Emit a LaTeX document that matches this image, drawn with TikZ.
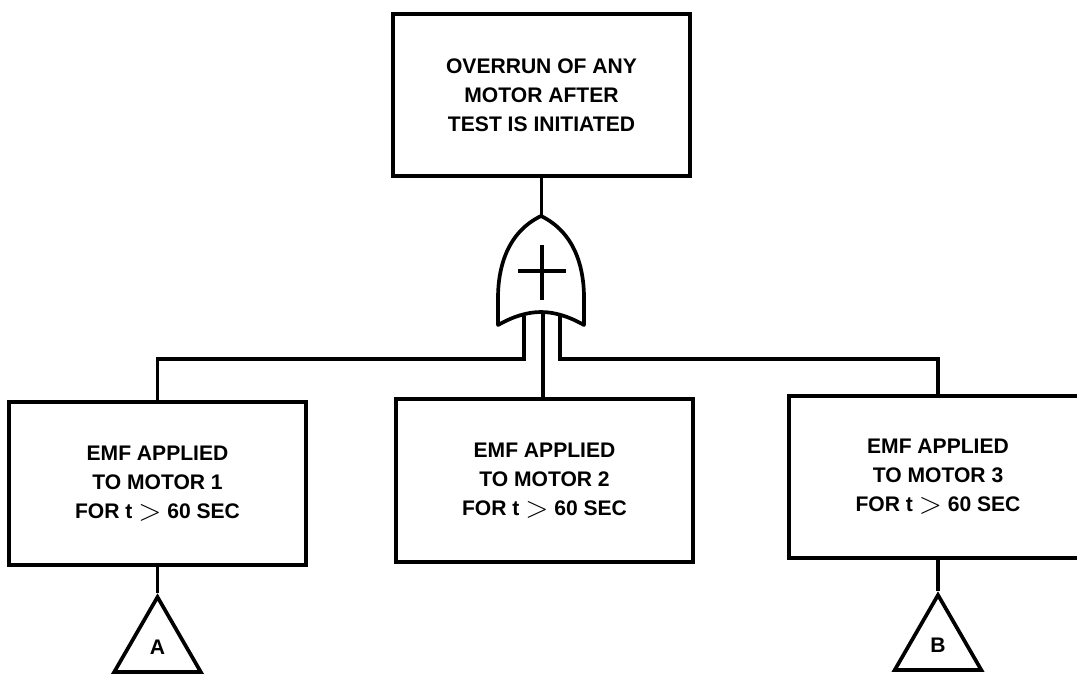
\documentclass[tikz,border=0pt]{standalone}
\usepackage{fontspec}
\setmainfont{Liberation Sans}
\usepackage{tikz}
\usetikzlibrary{positioning, shapes.geometric, calc}

\newcommand{\gtsym}{\raisebox{-1pt}{\fontsize{19}{19}\selectfont$>$}}

\begin{document}
\begin{tikzpicture}[
    x=0.02cm, y=-0.02cm,
    event/.style={rectangle, draw=black, line width=2.1pt, minimum width=5.95cm, minimum height=3.25cm, align=center, font=\fontsize{12}{16.5}\selectfont\bfseries},
    transfer/.style={regular polygon, regular polygon sides=3, draw=black, line width=2.1pt, minimum size=2cm, inner sep=0pt, font=\fontsize{12}{14}\selectfont\bfseries},
    wire/.style={draw=black, line width=2.1pt},
    gateline/.style={draw=black, line width=2.1pt, line join=round}
]
\useasboundingbox (0,0) rectangle (1077,674);

% Nodes
\node[event] (top) at (541.5,95) {OVERRUN OF ANY\\MOTOR AFTER\\TEST IS INITIATED};
\node[event] (mot1) at (157.5,483.5) {EMF APPLIED\\TO MOTOR 1\\FOR t \gtsym{} 60 SEC};
\node[event] (mot2) at (544.5,480.5) {EMF APPLIED\\TO MOTOR 2\\FOR t \gtsym{} 60 SEC};
\node[event] (mot3) at (938,477) {EMF APPLIED\\TO MOTOR 3\\FOR t \gtsym{} 60 SEC};

% Transfers
\node[transfer] (trA) at (157.5,647) {A};
\node[transfer] (trB) at (938,645) {B};

% OR gate
\coordinate (gtop) at (541,216);
\draw[gateline] (gtop) .. controls (508,232) and (498,266) .. (498,298) -- (498,325)
    .. controls (514,316) and (528,312) .. (541,312)
    .. controls (554,312) and (568,316) .. (584,325) -- (584,298)
    .. controls (584,266) and (574,232) .. (gtop) -- cycle;
\draw[wire] (518,271) -- (566,271);
\draw[wire] (542,245) -- (542,300);
\coordinate (gleft) at (524,316);
\coordinate (gmid) at (543,312);
\coordinate (gright) at (560,316);

% Connectors
\draw[wire] (top.south) -- (top.south |- gtop);
\draw[wire] (gleft) -- ++(0,43) -| (mot1.north);
\draw[wire] (gmid) -- (gmid |- mot2.north);
\draw[wire] (gright) -- ++(0,43) -| (mot3.north);
\draw[wire] (mot1.south) -- (trA.corner 1);
\draw[wire] (mot3.south) -- (trB.corner 1);

\end{tikzpicture}
\end{document}
